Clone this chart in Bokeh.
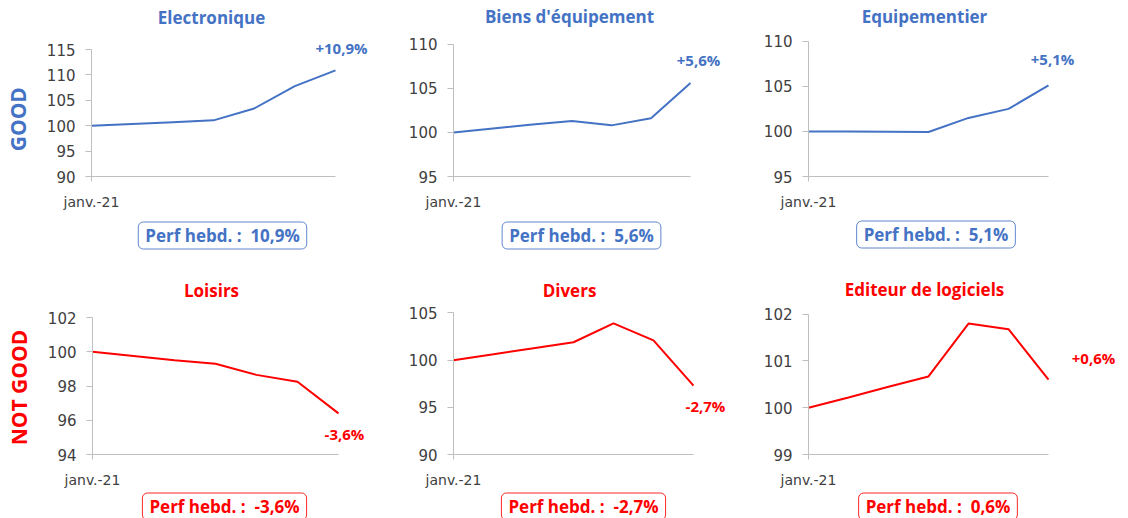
from bokeh.plotting import figure
from bokeh.models import Range1d, FixedTicker, Label, ColumnDataSource
from bokeh.layouts import column, row
from bokeh.embed import file_html
from bokeh.resources import INLINE

# ---------------- data ----------------
weeks = [0, 1, 2, 3, 4, 5, 6]
x_tick_label = "janv.-21"

titles = ["Electronique", "Biens d'équipement", "Equipementier",
          "Loisirs", "Divers", "Editeur de logiciels"]

electronique = [100, 100.35, 100.7, 101.05, 103.4, 107.8, 110.9]
biens_equipement = [100, 100.45, 100.9, 101.3, 100.8, 101.6, 105.6]
equipementier = [100, 99.98, 99.95, 99.93, 101.5, 102.5, 105.1]
loisirs = [100, 99.75, 99.5, 99.3, 98.65, 98.25, 96.4]
divers = [100, 100.63, 101.27, 101.9, 103.9, 102.1, 97.3]
editeur_logiciels = [100, 100.22, 100.45, 100.67, 101.8, 101.68, 100.6]

perf_labels = ["+10,9%", "+5,6%", "+5,1%", "-3,6%", "-2,7%", "+0,6%"]
perf_box_texts = ["Perf hebd. :\u00a0 10,9%", "Perf hebd. :\u00a0 5,6%", "Perf hebd. :\u00a0 5,1%",
                  "Perf hebd. :\u00a0 -3,6%", "Perf hebd. :\u00a0 -2,7%", "Perf hebd. :\u00a0 0,6%"]

y_limits = [(90, 115), (95, 110), (95, 110), (94, 102), (90, 105), (99, 102)]
y_ticks = [[90, 95, 100, 105, 110, 115], [95, 100, 105, 110], [95, 100, 105, 110],
           [94, 96, 98, 100, 102], [90, 95, 100, 105], [99, 100, 101, 102]]

row_labels = ["GOOD", "NOT GOOD"]

series = [electronique, biens_equipement, equipementier, loisirs, divers, editeur_logiciels]

BLUE = "#4472C4"
RED = "#FF0000"
colors = [BLUE, BLUE, BLUE, RED, RED, RED]

# ---------------- layout (absolute page pixels) ----------------
SIDE_W = 38
ROW1_H = 215
BOX1_H = 47
ROW2_H = 229
BOX2_H = 27
# fig_left, fig_top, width, height, frame_left (x=0), x at last week, y at top tick, y at bottom tick
geom = [
    (SIDE_W, 0, 380 - SIDE_W, ROW1_H, 91, 335, 49, 176),
    (380, 0, 365, ROW1_H, 453, 690, 44, 177),
    (745, 0, 383, ROW1_H, 808, 1048, 41, 177),
    (SIDE_W, 262, 380 - SIDE_W, ROW2_H, 92, 338, 317, 454),
    (380, 262, 365, ROW2_H, 453, 693, 313, 456),
    (745, 262, 383, ROW2_H, 808, 1048, 314, 455),
]
title_pos = [(211, 16.5), (569, 16), (924, 16), (211, 290), (569, 290), (924, 289)]
value_pos = [(341, 47), (698, 60), (1052, 58.5), (344, 433), (705, 406.5), (1093, 358)]
box_pos = [(222, 235), (581, 235), (935.5, 234), (224, 506), (583, 506), (937.5, 506)]
row_label_pos = [(17.5, 118.7), (18, 387)]

TICK_FONT = "DejaVu Sans"
TEXT_FONT = "Open Sans"
AXIS_GREY = "#BFBFBF"
TICK_TEXT = "#404040"


def bare_figure(w, h, x0, x1, y0, y1):
    f = figure(width=w, height=h, output_backend="svg", toolbar_location=None,
               x_range=Range1d(x0, x1), y_range=Range1d(y0, y1),
               x_axis_type=None, y_axis_type=None,
               min_border_left=0, min_border_right=0, min_border_top=0, min_border_bottom=0)
    f.outline_line_color = None
    f.xgrid.visible = False
    f.ygrid.visible = False
    return f


def make_panel(i):
    fx, fy, w, h, fl, x6, ytop, ybot = geom[i]
    ylo, yhi = y_limits[i]
    col = colors[i]
    sx = (x6 - fl) / (weeks[-1] - weeks[0])
    sy = (ybot - ytop) / (yhi - ylo)
    x_end = weeks[0] + (fx + w - fl) / sx
    y_end = ylo + (ybot - fy) / sy

    def dx(X):
        return weeks[0] + (X - fl) / sx

    def dy(Y):
        return ylo + (ybot - Y) / sy

    p = figure(width=w, height=h, output_backend="svg", toolbar_location=None,
               x_range=Range1d(weeks[0], x_end), y_range=Range1d(ylo, y_end),
               min_border_left=fl - fx, min_border_right=0,
               min_border_top=0, min_border_bottom=fy + h - ybot)
    p.outline_line_color = None
    p.xgrid.visible = False
    p.ygrid.visible = False

    src = ColumnDataSource(dict(x=weeks, y=series[i]))
    p.line("x", "y", source=src, line_width=2, line_color=col)

    # y axis
    p.yaxis.ticker = FixedTicker(ticks=y_ticks[i], minor_ticks=[])
    p.yaxis.bounds = (ylo, yhi)
    p.yaxis.axis_line_color = AXIS_GREY
    p.yaxis.major_tick_line_color = AXIS_GREY
    p.yaxis.major_tick_in = 0
    p.yaxis.major_tick_out = 6
    p.yaxis.minor_tick_line_color = None
    p.yaxis.major_label_standoff = 10
    p.yaxis.major_label_text_font = TICK_FONT
    p.yaxis.major_label_text_font_size = "15px"
    p.yaxis.major_label_text_color = TICK_TEXT

    # x axis
    p.xaxis.ticker = FixedTicker(ticks=[weeks[0]], minor_ticks=[])
    p.xaxis.bounds = (weeks[0], weeks[-1])
    p.xaxis.major_label_overrides = {weeks[0]: x_tick_label}
    p.xaxis.axis_line_color = AXIS_GREY
    p.xaxis.major_tick_line_color = AXIS_GREY
    p.xaxis.major_tick_in = 0
    p.xaxis.major_tick_out = 5
    p.xaxis.minor_tick_line_color = None
    p.xaxis.major_label_standoff = 12
    p.xaxis.major_label_text_font = TICK_FONT
    p.xaxis.major_label_text_font_size = "14px"
    p.xaxis.major_label_text_color = TICK_TEXT

    # title
    tx, ty = title_pos[i]
    p.add_layout(Label(x=dx(tx), y=dy(ty), text=titles[i],
                       text_align="center", text_baseline="middle",
                       text_font=TEXT_FONT, text_font_style="bold", text_font_size="17px",
                       text_color=col))
    # end value label
    vx, vy = value_pos[i]
    p.add_layout(Label(x=dx(vx), y=dy(vy), text=perf_labels[i],
                       text_align="center", text_baseline="middle",
                       text_font=TEXT_FONT, text_font_style="bold", text_font_size="15px",
                       text_color=col))
    return p


panels = [make_panel(i) for i in range(6)]


def make_box_row(idx, top, height):
    f = bare_figure(1128 - SIDE_W, height, SIDE_W, 1128, top + height, top)
    for i in idx:
        bx, by = box_pos[i]
        f.add_layout(Label(x=bx, y=by, text=perf_box_texts[i],
                           text_align="center", text_baseline="middle",
                           text_font=TEXT_FONT, text_font_style="bold", text_font_size="17px",
                           text_color=colors[i], border_line_color=colors[i],
                           border_line_width=1, border_line_alpha=0.85, border_radius=5,
                           background_fill_color="white",
                           padding=dict(left=7, right=7, top=2, bottom=2)))
    return f


boxes1 = make_box_row([0, 1, 2], ROW1_H, BOX1_H)
boxes2 = make_box_row([3, 4, 5], 262 + ROW2_H, BOX2_H)

side = bare_figure(SIDE_W, 518, 0, SIDE_W, 518, 0)
for k, c in enumerate([BLUE, RED]):
    lx, ly = row_label_pos[k]
    side.add_layout(Label(x=lx, y=ly, text=row_labels[k], angle=90, angle_units="deg",
                          text_align="center", text_baseline="middle",
                          text_font=TEXT_FONT, text_font_style="bold",
                          text_font_size="21px", text_color=c))

layout = row(side, column(row(panels[0], panels[1], panels[2]), boxes1,
                          row(panels[3], panels[4], panels[5]), boxes2))

open("out.html", "w").write(file_html(layout, INLINE))
